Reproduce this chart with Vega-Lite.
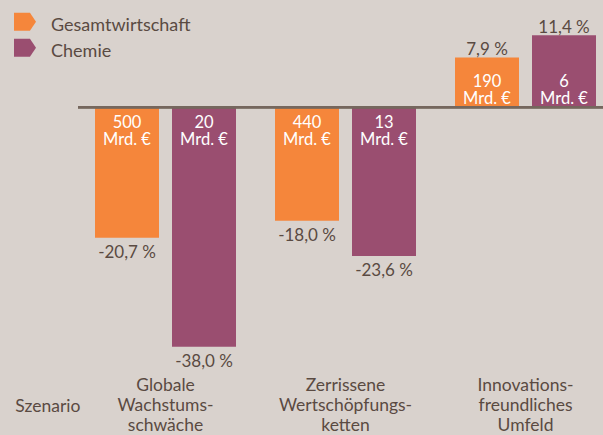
{
  "$schema": "https://vega.github.io/schema/vega-lite/v6.json",
  "autosize": {"type": "none"},
  "width": 525,
  "height": 372,
  "padding": {"left": 78, "top": 0, "right": 0, "bottom": 63},
  "background": "#d9d2cd",
  "config": {
    "font": "Lato",
    "view": {"stroke": null},
    "text": {"font": "Lato"}
  },
  "data": {
    "values": [
      {"scenario": "Globale|Wachstums-|schwäche", "series": "Gesamtwirtschaft", "pct": -20.7, "pctLabel": "-20,7 %", "amount": 500},
      {"scenario": "Globale|Wachstums-|schwäche", "series": "Chemie", "pct": -38.0, "pctLabel": "-38,0 %", "amount": 20},
      {"scenario": "Zerrissene|Wertschöpfungs-|ketten", "series": "Gesamtwirtschaft", "pct": -18.0, "pctLabel": "-18,0 %", "amount": 440},
      {"scenario": "Zerrissene|Wertschöpfungs-|ketten", "series": "Chemie", "pct": -23.6, "pctLabel": "-23,6 %", "amount": 13},
      {"scenario": "Innovations-|freundliches|Umfeld", "series": "Gesamtwirtschaft", "pct": 7.9, "pctLabel": "7,9 %", "amount": 190},
      {"scenario": "Innovations-|freundliches|Umfeld", "series": "Chemie", "pct": 11.4, "pctLabel": "11,4 %", "amount": 6}
    ]
  },
  "transform": [
    {"calculate": "datum.amount + '|Mrd. €'", "as": "amountLabel"}
  ],
  "layer": [
    {
      "mark": {"type": "bar"},
      "encoding": {
        "x": {
          "field": "scenario", "type": "nominal", "sort": null,
          "scale": {"type": "band", "paddingInner": 0.216667, "paddingOuter": 0.066667, "align": 0.708333},
          "axis": {
            "title": "Szenario",
            "titleFont": "Lato", "titleFontSize": 17.5, "titleFontWeight": "normal", "titleColor": "#5a4a42",
            "titleX": -30.7, "titleY": 39, "titleAlign": "center", "titleBaseline": "alphabetic", "titleAnchor": null,
            "domain": false, "ticks": false, "tickSize": 0, "grid": false,
            "labelExpr": "split(datum.label, '|')",
            "labelAngle": 0,
            "labelFont": "Lato", "labelFontSize": 17.5, "labelColor": "#5a4a42",
            "labelLineHeight": 20, "labelBaseline": "top", "labelPadding": 4.5,
            "labelLimit": 0
          }
        },
        "xOffset": {"field": "series", "type": "nominal", "sort": ["Gesamtwirtschaft", "Chemie"], "scale": {"paddingInner": 0.168831, "paddingOuter": 0}},
        "y": {"field": "pct", "type": "quantitative", "scale": {"domain": [-42, 17], "nice": false, "zero": true}, "axis": null},
        "color": {
          "field": "series", "type": "nominal",
          "scale": {"domain": ["Gesamtwirtschaft", "Chemie"], "range": ["#f5863b", "#9a4e70"]},
          "legend": {
            "title": null, "orient": "none", "legendX": -64, "legendY": 15,
            "symbolType": "M-1,-1.2L0.45,-1.2L1,-0.38L0.45,0.44L-1,0.44Z",
            "symbolSize": 484, "symbolStrokeWidth": 0, "symbolOpacity": 1,
            "labelFont": "Lato", "labelFontSize": 18, "labelColor": "#5a4a42",
            "labelOffset": 15, "labelBaseline": "middle", "rowPadding": 3, "padding": 0,
            "labelLimit": 0
          }
        }
      }
    },
    {
      "mark": {"type": "rule", "color": "#76675e", "strokeWidth": 2},
      "encoding": {"y": {"datum": 0}}
    },
    {
      "transform": [{"filter": "datum.pct < 0"}],
      "mark": {"type": "text", "color": "#ffffff", "fontSize": 16.5, "baseline": "top", "align": "center", "dy": 8, "lineBreak": "|", "lineHeight": 17},
      "encoding": {
        "x": {"field": "scenario", "type": "nominal", "sort": null},
        "xOffset": {"field": "series", "type": "nominal", "sort": ["Gesamtwirtschaft", "Chemie"]},
        "y": {"datum": 0},
        "text": {"field": "amountLabel"}
      }
    },
    {
      "transform": [{"filter": "datum.pct > 0"}],
      "mark": {"type": "text", "color": "#ffffff", "fontSize": 16.5, "baseline": "top", "align": "center", "dy": -33, "lineBreak": "|", "lineHeight": 17},
      "encoding": {
        "x": {"field": "scenario", "type": "nominal", "sort": null},
        "xOffset": {"field": "series", "type": "nominal", "sort": ["Gesamtwirtschaft", "Chemie"]},
        "y": {"datum": 0},
        "text": {"field": "amountLabel"}
      }
    },
    {
      "transform": [{"filter": "datum.pct < 0"}],
      "mark": {"type": "text", "color": "#5a4a42", "fontSize": 17, "baseline": "top", "align": "center", "dy": 7},
      "encoding": {
        "x": {"field": "scenario", "type": "nominal", "sort": null},
        "xOffset": {"field": "series", "type": "nominal", "sort": ["Gesamtwirtschaft", "Chemie"]},
        "y": {"field": "pct", "type": "quantitative"},
        "text": {"field": "pctLabel"}
      }
    },
    {
      "transform": [{"filter": "datum.pct > 0"}],
      "mark": {"type": "text", "color": "#5a4a42", "fontSize": 17, "baseline": "alphabetic", "align": "center", "dy": -2},
      "encoding": {
        "x": {"field": "scenario", "type": "nominal", "sort": null},
        "xOffset": {"field": "series", "type": "nominal", "sort": ["Gesamtwirtschaft", "Chemie"]},
        "y": {"field": "pct", "type": "quantitative"},
        "text": {"field": "pctLabel"}
      }
    }
  ]
}
